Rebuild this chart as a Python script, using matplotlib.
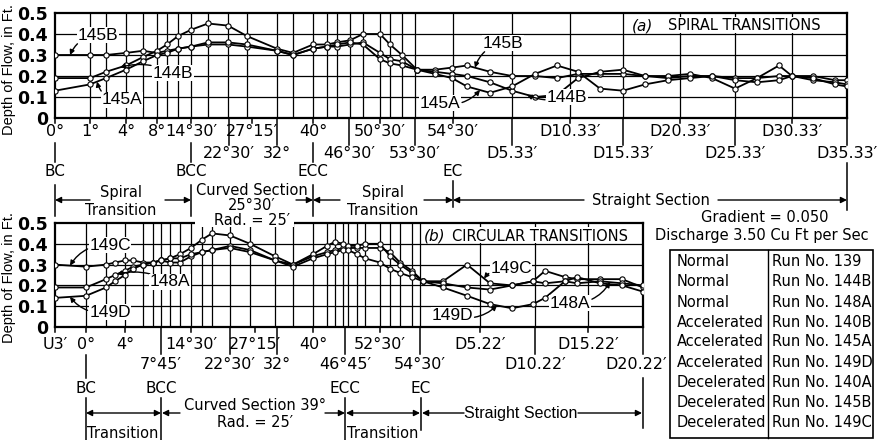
import numpy as np
import matplotlib
matplotlib.use('Agg')
import matplotlib.pyplot as plt
from matplotlib.lines import Line2D
from matplotlib.patches import FancyArrowPatch, Rectangle

plt.rcParams['font.family'] = ['DejaVu Sans']
NARROW = ['Liberation Sans', 'DejaVu Sans']

W, H = 880, 440

# ---- (a) spiral transitions: position along flume (chart units) and depth (ft)
sta_a = [55, 90, 106, 126, 143, 157, 167, 178, 191, 208, 228, 247, 277, 293,
         313, 327, 337, 350, 363, 380, 390, 402, 417, 435, 452, 467, 490, 512,
         535, 557, 578, 600, 623, 645, 668, 690, 712, 735, 757, 779, 792, 813, 835, 847]
run_145B = [.30, .30, .30, .31, .32, .31, .32, .33, .34, .35, .35, .34, .32, .30,
            .33, .34, .34, .35, .36, .31, .28, .27, .23, .23, .24, .25, .22, .20,
            .20, .19, .21, .21, .21, .20, .19, .20, .20, .19, .19, .20, .20, .20, .18, .18]
run_144B = [.19, .19, .22, .25, .29, .32, .35, .39, .42, .45, .44, .39, .33, .31,
            .35, .35, .36, .37, .40, .40, .35, .30, .23, .22, .21, .20, .17, .13,
            .10, .11, .19, .22, .23, .20, .20, .21, .19, .14, .19, .25, .20, .18, .17, .16]
run_145A = [.13, .16, .19, .23, .27, .30, .31, .33, .34, .36, .36, .35, .32, .30,
            .33, .34, .35, .36, .35, .28, .26, .25, .23, .21, .19, .15, .12, .15,
            .21, .25, .22, .14, .13, .16, .18, .19, .20, .18, .17, .18, .20, .19, .16, .15]
grid_a = [90, 106, 126, 143, 157, 167, 178, 191, 208, 228, 247, 277, 293, 313, 327,
          337, 350, 363, 380, 390, 402, 415, 453, 512, 570, 623, 680, 735, 792]
tick_a_hi = [55, 90, 126, 157, 191, 252, 313, 380, 453, 570, 680, 792]
lab_a_hi = ['0°', '1°', '4°', '8°', '14°30′', '27°15′', '40°', '50°30′', '54°30′',
            'D10.33′', 'D20.33′', 'D30.33′']
tick_a_lo = [229, 277, 349, 415, 512, 623, 735, 847]
lab_a_lo = ['22°30′', '32°', '46°30′', '53°30′', 'D5.33′', 'D15.33′', 'D25.33′', 'D35.33′']

# ---- (b) circular transitions
sta_b = [55, 86, 106, 115, 125, 133, 143, 153, 161, 170, 180, 191, 202, 212, 230, 250,
         275, 293, 313, 327, 335, 343, 348, 357, 365, 380, 390, 400, 412, 423, 443, 467,
         490, 512, 533, 545, 565, 577, 600, 622, 643]
run_149C = [.30, .29, .30, .31, .32, .32, .31, .31, .32, .31, .31, .34, .36, .37, .39, .37,
            .32, .30, .34, .36, .37, .38, .38, .38, .38, .38, .36, .31, .27, .22, .22, .30,
            .21, .20, .22, .27, .24, .23, .23, .23, .19]
run_148A = [.19, .19, .23, .25, .27, .29, .30, .31, .32, .33, .35, .38, .42, .45, .44, .40,
            .34, .30, .35, .39, .41, .40, .39, .39, .40, .40, .34, .30, .26, .22, .21, .19,
            .18, .20, .22, .21, .22, .21, .22, .21, .20]
run_149D = [.14, .15, .19, .22, .25, .28, .30, .31, .32, .33, .33, .35, .36, .37, .38, .36,
            .32, .29, .33, .35, .36, .37, .37, .35, .33, .31, .28, .26, .24, .22, .19, .15,
            .11, .09, .11, .14, .22, .24, .21, .20, .17]
grid_b = [86, 106, 125, 143, 153, 161, 170, 180, 191, 202, 212, 230, 250, 275, 293, 313,
          327, 335, 343, 348, 357, 365, 380, 390, 400, 412, 420, 480, 535, 588]
tick_b_hi = [55, 86, 125, 191, 255, 313, 380, 480, 588]
lab_b_hi = ['U3′', '0°', '4°', '14°30′', '27°15′', '40°', '52°30′', 'D5.22′', 'D15.22′']
tick_b_lo = [161, 230, 277, 345, 420, 535, 643]
lab_b_lo = ['7°45′', '22°30′', '32°', '46°45′', '54°30′', 'D10.22′', 'D20.22′']

flow_type = ['Normal', 'Normal', 'Normal', 'Accelerated', 'Accelerated', 'Accelerated',
             'Decelerated', 'Decelerated', 'Decelerated']
run_no = ['139', '144B', '148A', '140B', '145A', '149D', '140A', '145B', '149C']

fig = plt.figure(figsize=(W / 100, H / 100), dpi=100)


def fxy(x, y):
    return (x / W, 1 - y / H)


def ftext(x, y, s, **kw):
    kw.setdefault('ha', 'center')
    kw.setdefault('va', 'center')
    kw.setdefault('fontsize', 10.5)
    return fig.text(x / W, 1 - y / H, s, **kw)


def fline(x, y0, y1, lw=1.1):
    fig.add_artist(Line2D([x / W, x / W], [1 - y0 / H, 1 - y1 / H], color='k', lw=lw))


def farrow(x0, x1, y, style='-|>'):
    fig.add_artist(FancyArrowPatch(fxy(x0, y), fxy(x1, y), transform=fig.transFigure,
                                   arrowstyle=style, mutation_scale=9, color='k', lw=1.0,
                                   shrinkA=0, shrinkB=0))


def white_box(x0, y0, x1, y1):
    fig.add_artist(Rectangle(fxy(x0, y1), (x1 - x0) / W, (y1 - y0) / H,
                             transform=fig.transFigure, fc='white', ec='none', zorder=1))


def panel(left, top, right, bottom, grid_x, sta, runs):
    ax = fig.add_axes([left / W, 1 - bottom / H, (right - left) / W, (bottom - top) / H])
    for g in grid_x:
        ax.axvline(g, color='k', lw=0.9, zorder=1)
    for v in (0.1, 0.2, 0.3, 0.4):
        ax.axhline(v, color='k', lw=0.9, zorder=1)
    for run in runs:
        ax.plot(sta, run, color='k', lw=1.3, marker='o', ms=3.8, mfc='white',
                mec='k', mew=0.8, zorder=3)
    ax.set_xlim(left, right)
    ax.set_ylim(0, 0.5)
    ax.set_xticks([])
    ax.set_yticks([0, 0.1, 0.2, 0.3, 0.4, 0.5])
    ax.set_yticklabels(['0', '0.1', '0.2', '0.3', '0.4', '0.5'], fontsize=12.5, fontweight='bold')
    ax.tick_params(axis='y', length=0, pad=5)
    for s in ax.spines.values():
        s.set_linewidth(1.6)
    return ax


def station_row(ticks, labels, axis_y, tick_len, label_y, xmax=880):
    for t, lab in zip(ticks, labels):
        fline(t, axis_y, axis_y + tick_len)
        ftext(min(t, xmax), label_y, lab, fontsize=11.5)


def curve_label(ax, s, tx, ty, sta, run, xt, rad):
    ax.annotate(s, xy=(xt, np.interp(xt, sta, run)), xytext=fxy(tx, ty),
                textcoords='figure fraction', ha='center', va='center',
                fontsize=12.5, family=NARROW,
                bbox=dict(fc='white', ec='none', pad=0.3),
                arrowprops=dict(arrowstyle='-|>', mutation_scale=7, lw=1.0, color='k',
                                connectionstyle='arc3,rad=%s' % rad, shrinkA=1, shrinkB=0),
                zorder=5)


# ---------------- panel (a)
axA = panel(55, 13, 847, 118, grid_a, sta_a, [run_145B, run_144B, run_145A])
station_row(tick_a_hi, lab_a_hi, 118, 5, 131)
station_row(tick_a_lo, lab_a_lo, 118, 27, 153)

white_box(628, 17, 826, 33)
ftext(643, 26, '(a)', fontsize=11, style='italic')
ftext(744, 26, 'SPIRAL TRANSITIONS', fontsize=10.5)

curve_label(axA, '145B', 98, 35, sta_a, run_145B, 70, 0.3)
curve_label(axA, '144B', 173, 73, sta_a, run_144B, 120, 0.2)
curve_label(axA, '145A', 122, 100, sta_a, run_145A, 97, -0.4)
curve_label(axA, '145B', 503, 43, sta_a, run_145B, 475, 0.3)
curve_label(axA, '145A', 440, 103, sta_a, run_145A, 480, 0.3)
curve_label(axA, '144B', 567, 97, sta_a, run_144B, 527, -0.2)

# section markers under (a)
for x in (55, 191, 313):
    fline(x, 143, 162)
    fline(x, 185, 216)
fline(453, 181, 207)
fline(847, 163, 210)
for x, s in ((55, 'BC'), (191, 'BCC'), (313, 'ECC'), (453, 'EC')):
    ftext(x, 172, s, fontsize=11)

farrow(90, 55, 200)
farrow(165, 191, 200)
ftext(121, 192, 'Spiral', fontsize=10.5)
ftext(121, 210, 'Transition', fontsize=10.5)
farrow(296, 313, 200)
farrow(340, 313, 200)
farrow(424, 453, 200)
ftext(383, 192, 'Spiral', fontsize=10.5)
ftext(383, 210, 'Transition', fontsize=10.5)
farrow(584, 453, 200)
farrow(718, 847, 200)
ftext(651, 200, 'Straight Section', fontsize=10.5)

white_box(195, 182, 294, 227)
ftext(252, 190, 'Curved Section', fontsize=10.5)
ftext(252, 205, '25°30′', fontsize=10.5)
ftext(252, 220, 'Rad. = 25′', fontsize=10.5)

ftext(765, 217, 'Gradient = 0.050', fontsize=10.5)
ftext(762, 235, 'Discharge 3.50 Cu Ft per Sec', fontsize=10.5)

# ---------------- panel (b)
axB = panel(55, 223, 643, 327, grid_b, sta_b, [run_149C, run_148A, run_149D])
station_row(tick_b_hi, lab_b_hi, 327, 5, 344)
station_row(tick_b_lo, lab_b_lo, 327, 27, 364, xmax=636)
white_box(195, 215, 294, 226)

white_box(424, 227, 634, 243)
ftext(435, 236, '(b)', fontsize=11, style='italic')
ftext(540, 236, 'CIRCULAR TRANSITIONS', fontsize=10.5)

curve_label(axB, '149C', 110, 245, sta_b, run_149C, 70, 0.3)
curve_label(axB, '148A', 170, 282, sta_b, run_148A, 117, 0.2)
curve_label(axB, '149D', 110, 312, sta_b, run_149D, 70, -0.3)
curve_label(axB, '149C', 511, 268, sta_b, run_149C, 484, 0.3)
curve_label(axB, '149D', 452, 315, sta_b, run_149D, 497, 0.3)
curve_label(axB, '148A', 570, 303, sta_b, run_148A, 610, 0.3)

fline(86, 355, 378)
fline(643, 378, 428)
for x in (86, 161, 345):
    fline(x, 398, 440)
fline(421, 398, 430)
for x, s in ((86, 'BC'), (161, 'BCC'), (345, 'ECC'), (421, 'EC')):
    ftext(x, 388, s, fontsize=11)

farrow(86, 161, 413, style='<|-|>')
farrow(180, 162, 413)
farrow(325, 345, 413)
farrow(346, 420, 413, style='<|-|>')
farrow(464, 422, 413)
farrow(578, 642, 413)
ftext(255, 405, 'Curved Section 39°', fontsize=10.5)
ftext(255, 422, 'Rad. = 25′', fontsize=10.5)
ftext(123, 433, 'Transition', fontsize=10.5)
ftext(383, 433, 'Transition', fontsize=10.5)
ftext(521, 413, 'Straight Section', fontsize=11.5, family=NARROW)

# y-axis titles
ftext(9, 70, 'Depth of Flow, in Ft.', rotation=90, fontsize=10.5, family=NARROW)
ftext(9, 278, 'Depth of Flow, in Ft.', rotation=90, fontsize=10.5, family=NARROW)

# run table
fig.add_artist(Rectangle(fxy(670, 438), 203 / W, 188 / H, transform=fig.transFigure,
                         fill=False, ec='k', lw=1.2))
fig.add_artist(Line2D([768 / W, 768 / W], [1 - 250 / H, 1 - 438 / H], color='k', lw=1.0))
for i, (kind, no) in enumerate(zip(flow_type, run_no)):
    y = 262 + 20 * i
    ftext(677, y, kind, ha='left', fontsize=10.5)
    ftext(772, y, 'Run No. ' + no, ha='left', fontsize=10.5)

fig.savefig('out.png', dpi=100)
